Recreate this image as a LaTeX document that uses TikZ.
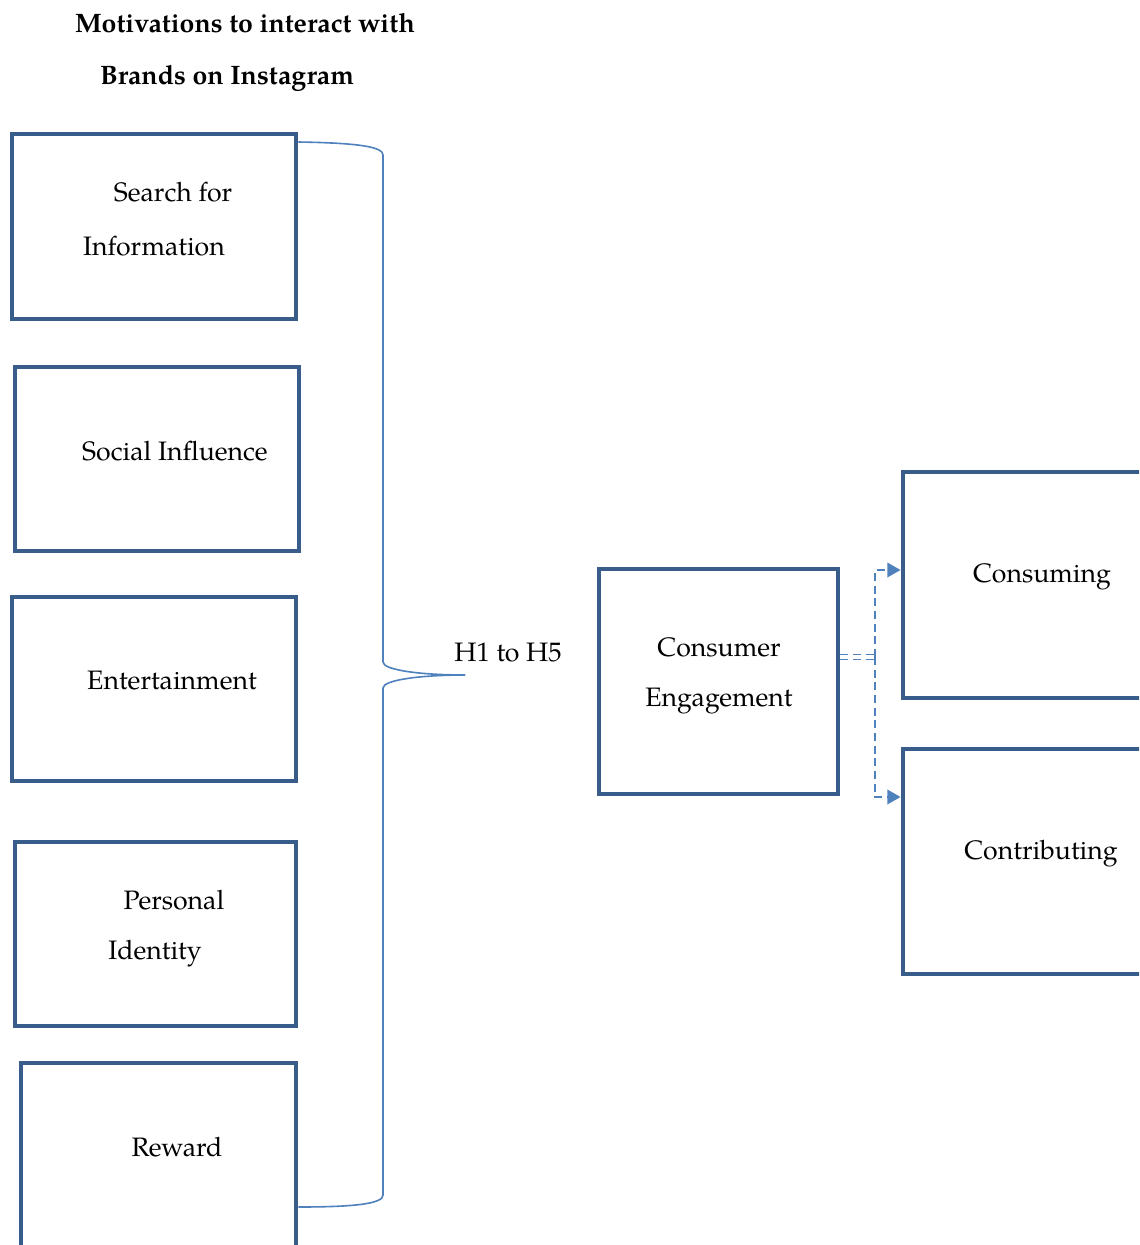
\documentclass[tikz,border=0pt]{standalone}
\usepackage{fontspec}
\setmainfont{TeX Gyre Pagella}
\usetikzlibrary{fit,arrows.meta}
\definecolor{boxblue}{RGB}{56,93,138}
\definecolor{lineblue}{RGB}{79,129,189}
\tikzset{
  box/.style={draw=boxblue, line width=3.6pt, inner sep=0pt},
  lbl/.style={font=\fontsize{20}{24}\selectfont, inner sep=0pt},
  ttl/.style={font=\fontsize{20}{24}\selectfont\bfseries, inner sep=0pt},
  brace/.style={draw=lineblue, line width=1.2pt},
  dashlink/.style={draw=lineblue, line width=1.2pt, dash pattern=on 6pt off 3.5pt}
}
\begin{document}
\begin{tikzpicture}[x=0.75pt,y=-0.75pt]
  \clip (0,0) rectangle (1139,1245);
  \fill[white] (0,0) rectangle (1139,1245);
  % title
  \node[ttl] (title1) at (245,23) {Motivations to interact with};
  \node[ttl] (title2) at (227,78) {Brands on Instagram};
  % motivation boxes
  \node[box, fit={(12,134)(296,319)}] (search) {};
  \node[box, fit={(15,367)(299,551)}] (social) {};
  \node[box, fit={(12,597)(296,781)}] (entert) {};
  \node[box, fit={(15,842)(296,1026)}] (person) {};
  \node[box, fit={(21,1063)(296,1262)}] (reward) {};
  \node[lbl] (t-search1) at (173,192) {Search for};
  \node[lbl] (t-search2) at (154,246) {Information};
  \node[lbl] (t-social) at (175,451) {Social Influence};
  \node[lbl] (t-entert) at (172,681) {Entertainment};
  \node[lbl] (t-person1) at (174,900) {Personal};
  \node[lbl] (t-person2) at (155,954) {Identity};
  \node[lbl] (t-reward) at (177,1147) {Reward};
  % engagement boxes
  \node[box, fit={(599,569)(838,794)}] (ce) {};
  \node[box, fit={(903,472)(1162,698)}] (consuming) {};
  \node[box, fit={(903,749)(1162,974)}] (contrib) {};
  \node[lbl] (t-ce1) at (719,647) {Consumer};
  \node[lbl] (t-ce2) at (719,701) {Engagement};
  \node[lbl] (t-consuming) at (1042,577) {Consuming};
  \node[lbl] (t-contrib) at (1041,854) {Contributing};
  \node[lbl] (hyp) at (508,653) {H1 to H5};
  % brace
  \coordinate (tip) at (465,675);
  \coordinate (split) at (875,657);
  \draw[brace] (search.east |- 0,142) .. controls (360,143) and (383,147) .. (383,155)
    -- (383,662) .. controls (383,670) and (420,675) .. (tip);
  \draw[brace] (tip) .. controls (420,675) and (383,680) .. (383,688)
    -- (383,1195) .. controls (383,1203) and (360,1207) .. (reward.east |- 0,1207);
  % dashed links
  \draw[dashlink] ([yshift=2pt]ce.east |- split) -- ([yshift=2pt]split);
  \draw[dashlink] ([yshift=-2pt]ce.east |- split) -- ([yshift=-2pt]split);
  \draw[dashlink, -{Triangle[length=10pt,width=11pt]}] (split) |- (consuming.west |- 0,570);
  \draw[dashlink, -{Triangle[length=10pt,width=11pt]}] (split) |- (contrib.west |- 0,797);
\end{tikzpicture}
\end{document}
